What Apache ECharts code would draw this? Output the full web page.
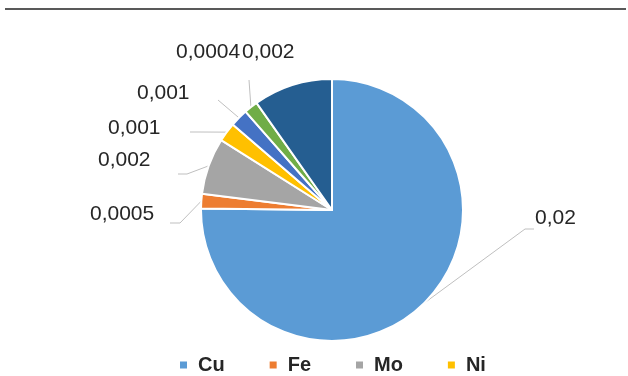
<!DOCTYPE html>
<html>
<head>
<meta charset="utf-8">
<script src="https://cdn.jsdelivr.net/npm/echarts@6/dist/echarts.min.js"></script>
<style>
  html, body { margin: 0; padding: 0; background: #fff; }
  #main { width: 628px; height: 376px; }
</style>
</head>
<body>
<div id="main"></div>
<script>
// 元素名称、数值（由扇形角度估算）、显示的标签文字
var names = ['Cu', 'Fe', 'Mo', 'Ni', 'Co', 'Pb', 'Zn'];
var values = [0.0200, 0.00048, 0.00185, 0.00063, 0.00059, 0.00045, 0.0026];
var labelTexts = ['0,02', '0,0005', '0,002', '0,001', '0,001', '0,0004', '0,002'];
var colors = ['#5B9BD5', '#ED7D31', '#A5A5A5', '#FFC000', '#4472C4', '#70AD47', '#255E91'];
var legendNames = ['Cu', 'Fe', 'Mo', 'Ni'];

// 标签位置（左对齐，垂直居中）与引导线折点
var labelPos = [[535, 218], [90, 214], [98, 160], [108, 128], [137, 93], [176, 52], [242, 52]];
var lineElbow = [
  [[525, 229], [534, 229]],
  [[180, 223], [170, 223]],
  [[187, 174], [178, 174]],
  [[200, 132], [190, 132]],
  [[218, 100], [218, 100]],
  [[249, 80], [249, 80]],
  null
];

var pieData = [];
for (var i = 0; i < names.length; i++) {
  var item = { name: names[i], value: values[i], itemStyle: { color: colors[i] } };
  if (!lineElbow[i]) item.labelLine = { show: false };
  pieData.push(item);
}

var chart = echarts.init(document.getElementById('main'));

var option = {
  animation: false,
  graphic: [{
    type: 'line',
    shape: { x1: 5, y1: 9, x2: 626, y2: 9 },
    style: { stroke: '#595959', lineWidth: 2 }
  }],
  legend: {
    data: legendNames,
    left: 178,
    top: 355,
    padding: 0,
    icon: 'rect',
    itemWidth: 9,
    itemHeight: 9,
    itemGap: 43,
    textStyle: {
      fontFamily: 'Liberation Sans',
      fontWeight: 'bold',
      fontSize: 20,
      color: '#262626',
      padding: [0, 0, 0, 5]
    }
  },
  series: [{
    type: 'pie',
    center: [332, 210],
    radius: [0, 131],
    startAngle: 90,
    clockwise: true,
    avoidLabelOverlap: false,
    itemStyle: { borderColor: '#fff', borderWidth: 2 },
    label: {
      show: true,
      position: 'outside',
      fontFamily: 'Liberation Sans',
      fontSize: 21,
      color: '#262626',
      formatter: function (p) { return labelTexts[p.dataIndex]; }
    },
    labelLine: {
      show: true,
      length: 15,
      length2: 10,
      lineStyle: { color: '#BFBFBF', width: 1 }
    },
    labelLayout: function (p) {
      var pos = labelPos[p.dataIndex];
      var elbow = lineElbow[p.dataIndex];
      var out = { x: pos[0], y: pos[1], align: 'left', verticalAlign: 'middle' };
      if (elbow && p.labelLinePoints) {
        out.labelLinePoints = [p.labelLinePoints[0], elbow[0], elbow[1]];
      }
      return out;
    },
    emphasis: { disabled: true },
    data: pieData
  }]
};

chart.setOption(option);
</script>
</body>
</html>
